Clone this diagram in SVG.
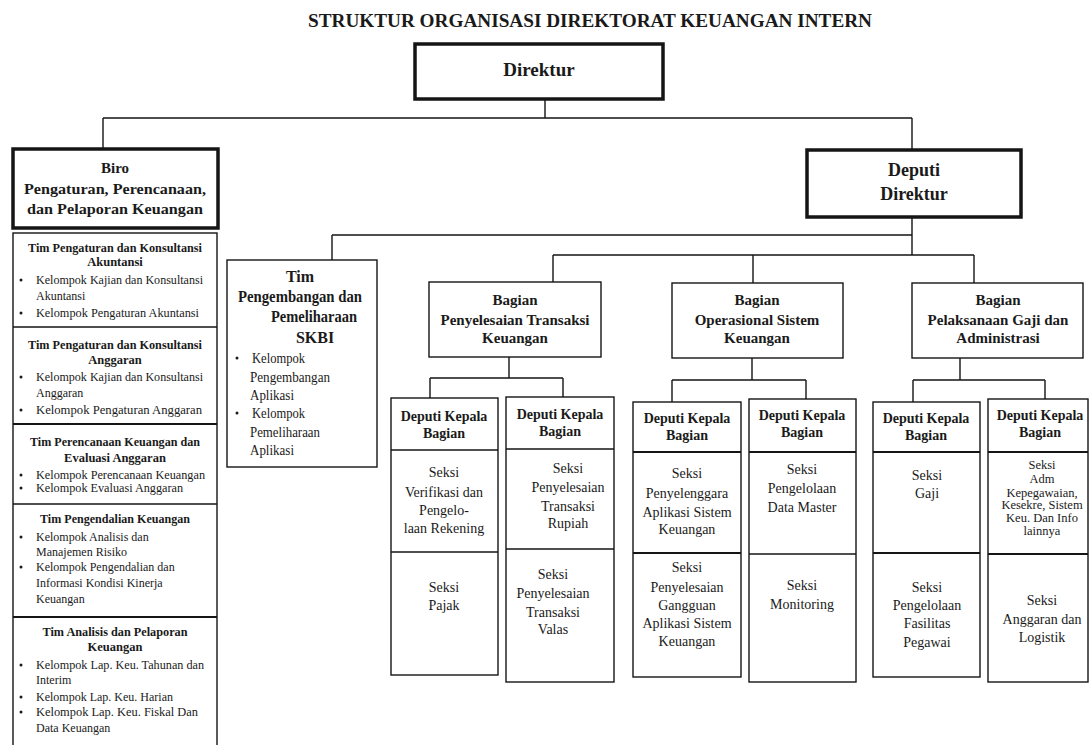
<svg xmlns="http://www.w3.org/2000/svg" width="1089" height="745" viewBox="0 0 1089 745">
<style>
.bx{fill:none;stroke:#151515;stroke-width:1.4}
.tk{fill:none;stroke:#151515;stroke-width:3.5}
.sp{stroke:#151515;stroke-width:2.2}
.ln{fill:none;stroke:#151515;stroke-width:1.4}
text{font-family:"Liberation Serif","Times New Roman",serif;fill:#1a1a1a;text-anchor:middle}
.t{font-weight:bold;font-size:18px}
.h1{font-weight:bold;font-size:19px}
.h2{font-weight:bold;font-size:15px}
.h3{font-weight:bold;font-size:14px}
.s{font-size:14px}
.s2{font-size:12.5px}
.lt{font-weight:bold;font-size:12.5px}
.li{font-size:12px;text-anchor:start}
.kb{font-size:14.5px;text-anchor:start}
</style>
<rect width="1089" height="745" fill="#ffffff"/>
<text class="t" x="590" y="27" textLength="564" lengthAdjust="spacingAndGlyphs">STRUKTUR ORGANISASI DIREKTORAT KEUANGAN INTERN</text>

<g id="connectors">
<path class="ln" d="M545 99V118M103 118H912M103 118V148M912 118V149"/>
<path class="ln" d="M912 217V255M332 235H912M332 235V260M553 255H974M553 255V282M753 255V283M974 255V283"/>
<path class="ln" d="M509 357V378M430 378H563M430 378V398M563 378V397"/>
<path class="ln" d="M752 358V380M672 380H806M672 380V402M806 380V399"/>
<path class="ln" d="M960 358V380M913 380H1045M913 380V402M1045 380V399"/>
</g>

<g id="direktur">
<rect class="tk" x="415" y="44" width="248" height="55"/>
<text class="h1" x="539" y="76">Direktur</text>
</g>

<g id="biro">
<rect class="tk" x="13" y="149" width="205" height="79"/>
<text class="h2" x="115" y="173">Biro</text>
<text class="h2" x="115" y="194" textLength="182" lengthAdjust="spacingAndGlyphs">Pengaturan, Perencanaan,</text>
<text class="h2" x="115" y="214" textLength="176" lengthAdjust="spacingAndGlyphs">dan Pelaporan Keuangan</text>
</g>

<g id="deputi-direktur">
<rect class="tk" x="807" y="150" width="214" height="67"/>
<text class="t" x="914" y="176">Deputi</text>
<text class="t" x="914" y="200">Direktur</text>
</g>

<g id="tim-biro">
<rect class="bx" x="13" y="233" width="204" height="515"/>
<line class="ln" x1="13" y1="327" x2="217" y2="327"/>
<line class="sp" x1="13" y1="424" x2="217" y2="424"/>
<line class="ln" x1="13" y1="504" x2="217" y2="504"/>
<line class="sp" x1="13" y1="617" x2="217" y2="617"/>
<g fill="#1a1a1a">
<circle cx="21" cy="280" r="1.5"/><circle cx="21" cy="313" r="1.5"/>
<circle cx="21" cy="377" r="1.5"/><circle cx="21" cy="410" r="1.5"/>
<circle cx="21" cy="475" r="1.5"/><circle cx="21" cy="488" r="1.5"/>
<circle cx="21" cy="537" r="1.5"/><circle cx="21" cy="567" r="1.5"/>
<circle cx="21" cy="665" r="1.5"/><circle cx="21" cy="697" r="1.5"/><circle cx="21" cy="712" r="1.5"/>
</g>
<text class="lt" x="115" y="252" textLength="174" lengthAdjust="spacingAndGlyphs">Tim Pengaturan dan Konsultansi</text>
<text class="lt" x="115" y="266">Akuntansi</text>
<text class="li" x="36" y="284" textLength="167" lengthAdjust="spacingAndGlyphs">Kelompok Kajian dan Konsultansi</text>
<text class="li" x="36" y="300">Akuntansi</text>
<text class="li" x="36" y="317" textLength="163" lengthAdjust="spacingAndGlyphs">Kelompok Pengaturan Akuntansi</text>

<text class="lt" x="115" y="349" textLength="174" lengthAdjust="spacingAndGlyphs">Tim Pengaturan dan Konsultansi</text>
<text class="lt" x="115" y="364">Anggaran</text>
<text class="li" x="36" y="381" textLength="167" lengthAdjust="spacingAndGlyphs">Kelompok Kajian dan Konsultansi</text>
<text class="li" x="36" y="397">Anggaran</text>
<text class="li" x="36" y="414" textLength="166" lengthAdjust="spacingAndGlyphs">Kelompok Pengaturan  Anggaran</text>

<text class="lt" x="115" y="446" textLength="170" lengthAdjust="spacingAndGlyphs">Tim Perencanaan Keuangan dan</text>
<text class="lt" x="115" y="462">Evaluasi Anggaran</text>
<text class="li" x="36" y="479" textLength="169" lengthAdjust="spacingAndGlyphs">Kelompok Perencanaan Keuangan</text>
<text class="li" x="36" y="492" textLength="147" lengthAdjust="spacingAndGlyphs">Kelompok Evaluasi Anggaran</text>

<text class="lt" x="115" y="523" textLength="150" lengthAdjust="spacingAndGlyphs">Tim Pengendalian Keuangan</text>
<text class="li" x="36" y="541">Kelompok Analisis dan</text>
<text class="li" x="36" y="556">Manajemen Risiko</text>
<text class="li" x="36" y="571">Kelompok Pengendalian dan</text>
<text class="li" x="36" y="587">Informasi Kondisi Kinerja</text>
<text class="li" x="36" y="603">Keuangan</text>

<text class="lt" x="115" y="636" textLength="145" lengthAdjust="spacingAndGlyphs">Tim Analisis dan Pelaporan</text>
<text class="lt" x="115" y="651">Keuangan</text>
<text class="li" x="36" y="669" textLength="168" lengthAdjust="spacingAndGlyphs">Kelompok Lap. Keu. Tahunan dan</text>
<text class="li" x="36" y="684">Interim</text>
<text class="li" x="36" y="701">Kelompok Lap. Keu. Harian</text>
<text class="li" x="36" y="716" textLength="162" lengthAdjust="spacingAndGlyphs">Kelompok Lap. Keu. Fiskal  Dan</text>
<text class="li" x="36" y="732">Data Keuangan</text>
</g>

<g id="tim-skbi">
<rect class="bx" x="227" y="260" width="150" height="207"/>
<text class="h2" x="300" y="282" style="font-size:16px">Tim</text>
<text class="h2" x="300" y="302" style="font-size:16px" textLength="124" lengthAdjust="spacingAndGlyphs">Pengembangan dan</text>
<text class="h2" x="314" y="322" style="font-size:16px" textLength="86" lengthAdjust="spacingAndGlyphs">Pemeliharaan</text>
<text class="h2" x="315" y="343" style="font-size:16px">SKBI</text>
<circle cx="237" cy="358" r="1.5" fill="#1a1a1a"/>
<circle cx="237" cy="413" r="1.5" fill="#1a1a1a"/>
<text class="kb" x="252" y="363" textLength="53" lengthAdjust="spacingAndGlyphs">Kelompok</text>
<text class="kb" x="250" y="382" textLength="80" lengthAdjust="spacingAndGlyphs">Pengembangan</text>
<text class="kb" x="250" y="400" textLength="44" lengthAdjust="spacingAndGlyphs">Aplikasi</text>
<text class="kb" x="252" y="418" textLength="53" lengthAdjust="spacingAndGlyphs">Kelompok</text>
<text class="kb" x="250" y="437" textLength="70" lengthAdjust="spacingAndGlyphs">Pemeliharaan</text>
<text class="kb" x="250" y="455" textLength="44" lengthAdjust="spacingAndGlyphs">Aplikasi</text>
</g>

<g id="bagian-ptk">
<rect class="bx" x="429" y="282" width="172" height="75"/>
<text class="h2" x="515" y="305">Bagian</text>
<text class="h2" x="515" y="325">Penyelesaian Transaksi</text>
<text class="h2" x="515" y="343">Keuangan</text>
</g>

<g id="bagian-osk">
<rect class="bx" x="672" y="283" width="171" height="75"/>
<text class="h2" x="757" y="305">Bagian</text>
<text class="h2" x="757" y="325">Operasional Sistem</text>
<text class="h2" x="757" y="343">Keuangan</text>
</g>

<g id="bagian-pga">
<rect class="bx" x="912" y="283" width="171" height="75"/>
<text class="h2" x="998" y="305">Bagian</text>
<text class="h2" x="998" y="325">Pelaksanaan Gaji dan</text>
<text class="h2" x="998" y="343">Administrasi</text>
</g>

<g id="dkb-1">
<rect class="bx" x="391" y="398" width="107" height="277"/>
<line class="ln" x1="391" y1="450" x2="498" y2="450"/>
<line class="ln" x1="391" y1="552" x2="498" y2="552"/>
<text class="h3" x="444" y="421">Deputi Kepala</text>
<text class="h3" x="444" y="438">Bagian</text>
<text class="s" x="444" y="477">Seksi</text>
<text class="s" x="444" y="497">Verifikasi  dan</text>
<text class="s" x="444" y="515">Pengelo-</text>
<text class="s" x="444" y="533">laan Rekening</text>
<text class="s" x="444" y="592">Seksi</text>
<text class="s" x="444" y="610">Pajak</text>
</g>

<g id="dkb-2">
<rect class="bx" x="506" y="397" width="108" height="285"/>
<line class="ln" x1="506" y1="449" x2="614" y2="449"/>
<line class="ln" x1="506" y1="549" x2="614" y2="549"/>
<text class="h3" x="560" y="419">Deputi Kepala</text>
<text class="h3" x="560" y="436">Bagian</text>
<text class="s" x="568" y="473">Seksi</text>
<text class="s" x="568" y="492">Penyelesaian</text>
<text class="s" x="568" y="511">Transaksi</text>
<text class="s" x="568" y="528">Rupiah</text>
<text class="s" x="553" y="579">Seksi</text>
<text class="s" x="553" y="598">Penyelesaian</text>
<text class="s" x="553" y="617">Transaksi</text>
<text class="s" x="553" y="634">Valas</text>
</g>

<g id="dkb-3">
<rect class="bx" x="633" y="402" width="108" height="275"/>
<line class="sp" x1="633" y1="452" x2="741" y2="452"/>
<line class="sp" x1="633" y1="553" x2="741" y2="553"/>
<text class="h3" x="687" y="423">Deputi Kepala</text>
<text class="h3" x="687" y="440">Bagian</text>
<text class="s" x="687" y="478">Seksi</text>
<text class="s" x="687" y="498">Penyelenggara</text>
<text class="s" x="687" y="517">Aplikasi Sistem</text>
<text class="s" x="687" y="534">Keuangan</text>
<text class="s" x="687" y="572">Seksi</text>
<text class="s" x="687" y="592">Penyelesaian</text>
<text class="s" x="687" y="610">Gangguan</text>
<text class="s" x="687" y="628">Aplikasi Sistem</text>
<text class="s" x="687" y="646">Keuangan</text>
</g>

<g id="dkb-4">
<rect class="bx" x="749" y="399" width="107" height="283"/>
<line class="sp" x1="749" y1="452" x2="856" y2="452"/>
<line class="ln" x1="749" y1="554" x2="856" y2="554"/>
<text class="h3" x="802" y="420">Deputi Kepala</text>
<text class="h3" x="802" y="437">Bagian</text>
<text class="s" x="802" y="474">Seksi</text>
<text class="s" x="802" y="493">Pengelolaan</text>
<text class="s" x="802" y="512">Data Master</text>
<text class="s" x="802" y="590">Seksi</text>
<text class="s" x="802" y="609">Monitoring</text>
</g>

<g id="dkb-5">
<rect class="bx" x="873" y="402" width="107" height="275"/>
<line class="sp" x1="873" y1="452" x2="980" y2="452"/>
<line class="sp" x1="873" y1="553" x2="980" y2="553"/>
<text class="h3" x="926" y="423">Deputi Kepala</text>
<text class="h3" x="926" y="440">Bagian</text>
<text class="s" x="927" y="480">Seksi</text>
<text class="s" x="927" y="498">Gaji</text>
<text class="s" x="927" y="592">Seksi</text>
<text class="s" x="927" y="610">Pengelolaan</text>
<text class="s" x="927" y="628">Fasilitas</text>
<text class="s" x="927" y="647">Pegawai</text>
</g>

<g id="dkb-6">
<rect class="bx" x="988" y="399" width="100" height="283"/>
<line class="sp" x1="988" y1="452" x2="1088" y2="452"/>
<line class="sp" x1="988" y1="554" x2="1088" y2="554"/>
<text class="h3" x="1040" y="420">Deputi Kepala</text>
<text class="h3" x="1040" y="437">Bagian</text>
<text class="s2" x="1042" y="469">Seksi</text>
<text class="s2" x="1042" y="483">Adm</text>
<text class="s2" x="1042" y="497">Kepegawaian,</text>
<text class="s2" x="1042" y="509">Kesekre, Sistem</text>
<text class="s2" x="1042" y="522">Keu. Dan Info</text>
<text class="s2" x="1042" y="535">lainnya</text>
<text class="s" x="1042" y="605">Seksi</text>
<text class="s" x="1042" y="624">Anggaran dan</text>
<text class="s" x="1042" y="642">Logistik</text>
</g>
</svg>
